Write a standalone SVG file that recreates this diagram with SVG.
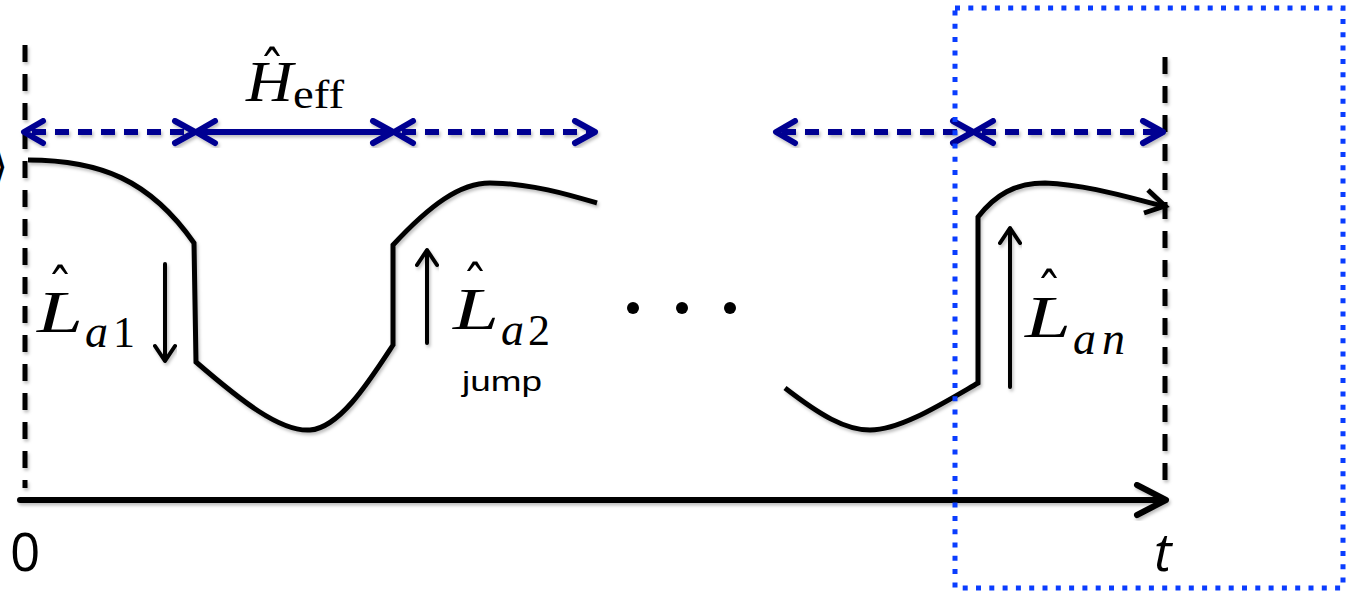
<svg xmlns="http://www.w3.org/2000/svg" width="1346" height="596" viewBox="0 0 1346 596">
  <style>
    .curve { fill: none; stroke: #000; stroke-width: 5; stroke-linejoin: miter; stroke-linecap: butt; }
    .vdash { fill: none; stroke: #000; stroke-width: 5; stroke-dasharray: 17 12; }
    .axis { fill: none; stroke: #000; stroke-width: 6; stroke-linecap: round; stroke-linejoin: round; }
    .jump { fill: none; stroke: #000; stroke-width: 4; stroke-linecap: round; stroke-linejoin: round; }
    .navy { fill: none; stroke: #000092; stroke-width: 6; stroke-linecap: round; stroke-linejoin: round; }
    .navyd { fill: none; stroke: #000092; stroke-width: 6; stroke-dasharray: 14 9; }
    .box { fill: none; stroke: #0a3dff; stroke-width: 5; stroke-dasharray: 5 8.3; }
    .math { font-family: "Liberation Serif", serif; font-style: italic; fill: #000; }
    .rm { font-family: "Liberation Serif", serif; fill: #000; }
    .hat { font-family: "DejaVu Serif", serif; fill: #000; text-anchor: middle; }
    .sans { font-family: "Liberation Sans", "Open Sans", sans-serif; fill: #000; }
    .os { font-family: "Open Sans", sans-serif; fill: #000; }
  </style>
  <defs>
    <filter id="sh" x="-10%" y="-10%" width="120%" height="130%">
      <feDropShadow dx="1.5" dy="2.5" stdDeviation="1.8" flood-color="#000" flood-opacity="0.25"/>
    </filter>
  </defs>

  <rect width="1346" height="596" fill="#fff"/>

  <!-- partial ket bracket at left edge -->
  <text class="rm" x="8" y="181" font-size="44" text-anchor="end">⟩</text>

  <!-- vertical dashed time markers -->
  <g id="markers" filter="url(#sh)">
    <line class="vdash" x1="25" y1="45" x2="25" y2="488"/>
    <line class="vdash" x1="1165" y1="57" x2="1165" y2="488"/>
  </g>

  <!-- time axis -->
  <g id="axis" filter="url(#sh)">
    <line class="axis" x1="20" y1="500" x2="1164" y2="500"/>
    <polyline class="axis" points="1137,485 1166,500 1137,515"/>
  </g>
  <text id="label-0" class="os" x="10" y="571" font-size="53">0</text>
  <text id="label-t" class="os" x="1154" y="571" font-size="53" font-style="italic">t</text>

  <!-- connectors: evolution intervals -->
  <g id="connectors" filter="url(#sh)">
    <line class="navyd" x1="32" y1="132" x2="188" y2="132"/>
    <polyline class="navy" points="43,121 24,132 43,143"/>
    <polyline class="navy" points="175,121 195,132 175,143"/>

    <line class="navy" x1="198" y1="132" x2="391" y2="132"/>
    <polyline class="navy" points="215,121 196,132 215,143"/>
    <polyline class="navy" points="373,121 393,132 373,143"/>

    <line class="navyd" x1="402" y1="132" x2="590" y2="132"/>
    <polyline class="navy" points="413,121 394,132 413,143"/>
    <polyline class="navy" points="575,121 595,132 575,143"/>

    <line class="navyd" x1="782" y1="132" x2="968" y2="132"/>
    <polyline class="navy" points="795,121 776,132 795,143"/>
    <polyline class="navy" points="953,121 973,132 953,143"/>

    <line class="navyd" x1="982" y1="132" x2="1160" y2="132"/>
    <polyline class="navy" points="993,121 974,132 993,143"/>
    <polyline class="navy" points="1143,121 1163,132 1143,143"/>
  </g>

  <!-- H_eff label -->
  <g id="heff">
    <text class="hat" x="272" y="88" font-size="52">ˆ</text>
    <text class="math" x="246" y="101" font-size="56" textLength="47" lengthAdjust="spacingAndGlyphs">H</text>
    <text class="rm" x="293" y="108" font-size="40" textLength="51" lengthAdjust="spacingAndGlyphs">eff</text>
  </g>

  <!-- trajectory curves -->
  <g id="trajectory" filter="url(#sh)">
    <path class="curve" d="M28,160 C100,160 150,180 194,243 L196,362 C240,400 280,432 310,430 C340,428 370,380 393,345 L393,245 C430,205 460,183 490,183 C530,183 570,195 597,203"/>
    <path class="curve" d="M785,388 C820,415 845,430 870,430 C900,430 940,405 978,383 L978,217 C995,195 1015,183 1045,183 C1090,185 1130,198 1163,206"/>
    <polyline class="curve" points="1148,190 1165,206 1144,213"/>
  </g>

  <!-- jump arrows -->
  <g id="jump1" filter="url(#sh)">
    <line class="jump" x1="165" y1="264" x2="165" y2="360"/>
    <polyline class="jump" points="155,346 165,361 175,346"/>
  </g>
  <g id="jump2" filter="url(#sh)">
    <line class="jump" x1="427" y1="343" x2="427" y2="251"/>
    <polyline class="jump" points="417,265 427,250 437,265"/>
  </g>
  <g id="jumpn" filter="url(#sh)">
    <line class="jump" x1="1010" y1="387" x2="1010" y2="229"/>
    <polyline class="jump" points="1000,243 1010,228 1020,243"/>
  </g>

  <!-- L_a1 -->
  <g id="La1">
    <text class="hat" x="60" y="306" font-size="52">ˆ</text>
    <text class="math" x="37" y="332" font-size="60" textLength="46" lengthAdjust="spacingAndGlyphs">L</text>
    <text class="math" x="85" y="347" font-size="46">a</text>
    <text class="rm" x="113" y="347" font-size="44">1</text>
  </g>

  <!-- L_a2 -->
  <g id="La2">
    <text class="hat" x="475" y="303" font-size="52">ˆ</text>
    <text class="math" x="453" y="329" font-size="60" textLength="46" lengthAdjust="spacingAndGlyphs">L</text>
    <text class="math" x="501" y="345" font-size="46">a</text>
    <text class="rm" x="528" y="345" font-size="44">2</text>
    <text class="sans" x="462" y="391" font-size="28" textLength="80" lengthAdjust="spacingAndGlyphs">jump</text>
  </g>

  <!-- ellipsis -->
  <g id="ellipsis">
    <circle cx="633" cy="308" r="6"/>
    <circle cx="682" cy="308" r="6"/>
    <circle cx="730" cy="308" r="6"/>
  </g>

  <!-- L_an -->
  <g id="Lan">
    <text class="hat" x="1049" y="310" font-size="52">ˆ</text>
    <text class="math" x="1025" y="337" font-size="60" textLength="46" lengthAdjust="spacingAndGlyphs">L</text>
    <text class="math" x="1073" y="354" font-size="46">a</text>
    <text class="math" x="1102" y="354" font-size="46">n</text>
  </g>

  <!-- highlighted final interval -->
  <rect id="highlight" class="box" x="955" y="8" width="388" height="580"/>
</svg>
